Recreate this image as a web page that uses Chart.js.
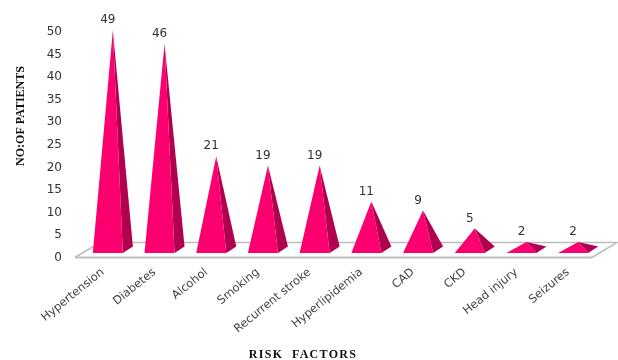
<!DOCTYPE html>
<html>
<head>
<meta charset="utf-8">
<style>html,body{margin:0;padding:0;background:#fff}canvas{display:block}</style>
<script src="https://cdn.jsdelivr.net/npm/chart.js@4"></script>
</head>
<body>
<canvas id="c" width="618" height="360"></canvas>
<script>
const categories = ['Hypertension','Diabetes','Alcohol','Smoking','Recurrent stroke','Hyperlipidemia','CAD','CKD','Head injury','Seizures'];
const patients = [49,46,21,19,19,11,9,5,2,2];
const yTitle = 'NO:OF PATIENTS';
const xTitle = 'RISK  FACTORS';

// Pseudo-3D floor and pyramids, positioned from the bar elements and scales.
const pyramids = {
  id: 'pyramids',
  beforeDatasetsDraw(chart) {
    const {ctx, chartArea: a} = chart;
    const front = a.bottom, back = a.bottom - 15;
    ctx.save();
    ctx.strokeStyle = '#bdbdbd';
    ctx.lineWidth = 1.5;
    ctx.beginPath();
    ctx.moveTo(a.left - 12, front);
    ctx.lineTo(a.left + 13, back);
    ctx.lineTo(a.right + 13, back);
    ctx.lineTo(a.right - 12, front);
    ctx.stroke();
    ctx.lineWidth = 2;
    ctx.beginPath();
    ctx.moveTo(a.left - 12, front);
    ctx.lineTo(a.right - 12, front);
    ctx.stroke();
    ctx.restore();
  },
  afterDatasetsDraw(chart) {
    const {ctx} = chart;
    const lift = 4.5, apexLift = 6.5, depthX = 10, depthY = 6.5;
    chart.getDatasetMeta(0).data.forEach((bar, i) => {
      const left = bar.x - bar.width / 2;
      const baseY = bar.base - lift;
      const apexY = bar.y - apexLift;
      const ridgeX = left + bar.width - depthX;
      ctx.fillStyle = '#b0004f';
      ctx.beginPath();
      ctx.moveTo(ridgeX, baseY);
      ctx.lineTo(left + bar.width, baseY - depthY);
      ctx.lineTo(bar.x, apexY);
      ctx.closePath();
      ctx.fill();
      ctx.fillStyle = '#fb006e';
      ctx.beginPath();
      ctx.moveTo(left, baseY);
      ctx.lineTo(ridgeX, baseY);
      ctx.lineTo(bar.x, apexY);
      ctx.closePath();
      ctx.fill();
      ctx.fillStyle = '#333';
      ctx.font = '12px "DejaVu Sans"';
      ctx.textAlign = 'center';
      ctx.textBaseline = 'middle';
      ctx.fillText(String(patients[i]), bar.x - 5, apexY - 10);
    });
  },
  afterDraw(chart) {
    const {ctx} = chart;
    ctx.save();
    ctx.fillStyle = '#111';
    ctx.textAlign = 'center';
    ctx.textBaseline = 'middle';
    ctx.font = 'bold 12px "Liberation Serif"';
    ctx.letterSpacing = '1.3px';
    ctx.fillText(xTitle, 303, 355);
    ctx.letterSpacing = '0px';
    ctx.translate(21, 116);
    ctx.rotate(-Math.PI / 2);
    ctx.fillText(yTitle, 0, 0);
    ctx.restore();
  }
};

new Chart(document.getElementById('c'), {
  type: 'bar',
  data: {
    labels: categories,
    datasets: [{
      data: patients,
      backgroundColor: 'transparent',
      borderWidth: 0,
      categoryPercentage: 1,
      barPercentage: 0.774
    }]
  },
  options: {
    responsive: false,
    animation: false,
    layout: {padding: {top: 29, right: 14, left: 0, bottom: 0}},
    plugins: {legend: {display: false}, tooltip: {enabled: false}},
    scales: {
      x: {
        grid: {display: false, drawTicks: false},
        border: {display: false},
        afterFit(s) { s.height = 102.5; },
        ticks: {
          autoSkip: false, minRotation: 39, maxRotation: 39,
          padding: 8, labelOffset: -10,
          color: '#444', font: {family: 'DejaVu Sans', size: 11.5}
        }
      },
      y: {
        min: 0, max: 50,
        grid: {display: false, drawTicks: false},
        border: {display: false},
        afterFit(s) { s.width = 87; },
        ticks: {
          stepSize: 5, padding: 25,
          color: '#333', font: {family: 'DejaVu Sans', size: 12}
        }
      }
    }
  },
  plugins: [pyramids]
});
</script>
</body>
</html>
